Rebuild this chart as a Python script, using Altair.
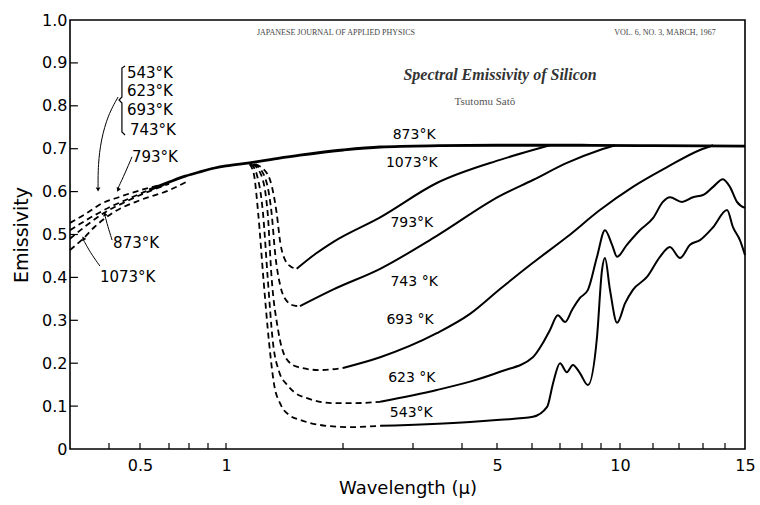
import altair as alt
import pandas as pd

# ---- non-uniform wavelength axis of the original figure (break values -> offsets) ----
X_BREAKS = [0.3, 0.4, 0.5, 0.6, 0.7, 0.8, 1, 2, 3, 4, 5, 6, 7, 8, 9, 10, 11, 12, 13, 14, 15]
X_RANGE = [0, 39, 70, 99, 119, 138, 156, 273, 343, 392, 427, 462, 490, 512, 531, 550, 583, 609, 633, 655, 675]

X_TICKS = [0.4, 0.5, 0.6, 0.7, 0.8, 1, 2, 3, 4, 5, 6, 7, 8, 9, 10, 11, 12, 13, 14]
X_LABELS = [0.5, 1, 5, 10, 15]
Y_TICKS = [0.1, 0.2, 0.3, 0.4, 0.5, 0.6, 0.7, 0.8, 0.9]
Y_LABELS = [0, 0.1, 0.2, 0.3, 0.4, 0.5, 0.6, 0.7, 0.8, 0.9, 1.0]

# ---- common curve (all temperatures 0.55-1.15 um, then 873/1073 K) ----
TOP_LAM = [0.53, 0.6, 0.68, 0.756, 0.87, 1.0, 1.15, 1.35, 1.55, 2.0, 2.48, 3.5, 5, 8, 11, 15]
TOP_EPS = [0.604, 0.622, 0.636, 0.646, 0.655, 0.66, 0.667, 0.677, 0.685, 0.697, 0.704, 0.707, 0.708, 0.708, 0.707, 0.706]

# ---- short-wavelength dashed branches ----
L543_743_LAM = [0.30, 0.343, 0.374, 0.433, 0.50, 0.56]
L543_743_EPS = [0.527, 0.552, 0.57, 0.588, 0.603, 0.614]
L793_LAM = [0.30, 0.35, 0.40, 0.46, 0.52, 0.58]
L793_EPS = [0.51, 0.54, 0.563, 0.583, 0.601, 0.615]
L873_LAM = [0.30, 0.34, 0.385, 0.45, 0.52, 0.6]
L873_EPS = [0.49, 0.522, 0.55, 0.576, 0.598, 0.618]
L1073_LAM = [0.30, 0.33, 0.36, 0.41, 0.5, 0.6, 0.7]
L1073_EPS = [0.464, 0.49, 0.518, 0.55, 0.58, 0.603, 0.626]

# ---- dashed drops beyond the absorption edge ----
D793_LAM = [1.19, 1.28, 1.35, 1.38, 1.42, 1.47, 1.52]
D793_EPS = [0.664, 0.64, 0.55, 0.48, 0.44, 0.425, 0.42]
D743_LAM = [1.18, 1.25, 1.31, 1.34, 1.38, 1.44, 1.5, 1.55]
D743_EPS = [0.664, 0.64, 0.55, 0.45, 0.38, 0.343, 0.334, 0.333]
D693_LAM = [1.17, 1.23, 1.28, 1.31, 1.36, 1.42, 1.52, 1.74, 2.0]
D693_EPS = [0.664, 0.64, 0.55, 0.4, 0.28, 0.215, 0.192, 0.184, 0.189]
D623_LAM = [1.16, 1.2, 1.245, 1.28, 1.32, 1.37, 1.435, 1.5, 1.61, 1.886, 2.15, 2.48]
D623_EPS = [0.664, 0.64, 0.55, 0.4, 0.25, 0.18, 0.15, 0.132, 0.119, 0.107, 0.107, 0.11]
D543_LAM = [1.15, 1.18, 1.21, 1.25, 1.29, 1.33, 1.38, 1.46, 1.55, 1.745, 2.08, 2.48]
D543_EPS = [0.664, 0.64, 0.55, 0.39, 0.25, 0.15, 0.105, 0.078, 0.068, 0.056, 0.051, 0.054]

# ---- solid measured parts ----
S793_LAM = [1.52, 1.7, 1.89, 2.48, 3.45, 5.08, 6.03, 6.62]
S793_EPS = [0.42, 0.455, 0.483, 0.54, 0.62, 0.674, 0.697, 0.708]
S743_LAM = [1.55, 1.89, 2.48, 3.45, 5.08, 6.03, 7.30, 8.94, 9.73]
S743_EPS = [0.333, 0.372, 0.42, 0.497, 0.59, 0.627, 0.667, 0.697, 0.708]
S693_LAM = [2.0, 2.48, 3.45, 4.21, 5.08, 6.03, 7.30, 8.94, 10.38, 11.53, 12.87, 13.45]
S693_EPS = [0.189, 0.214, 0.27, 0.315, 0.373, 0.434, 0.494, 0.557, 0.611, 0.657, 0.697, 0.708]
S623_LAM = [2.48, 3.45, 4.21, 5.08, 6.03, 6.37, 6.62, 6.92, 7.22, 7.53, 7.90, 8.30, 8.78, 9.20,
            9.57, 9.84, 10.2, 10.59, 11.0, 11.37, 11.64, 12.12, 12.57, 13.0, 13.45, 13.9, 14.24, 14.59, 15]
S623_EPS = [0.11, 0.1375, 0.157, 0.18, 0.214, 0.247, 0.277, 0.312, 0.296, 0.324, 0.352, 0.371, 0.448, 0.51,
            0.476, 0.448, 0.476, 0.51, 0.538, 0.576, 0.587, 0.576, 0.587, 0.592, 0.611, 0.629, 0.611, 0.576, 0.562]
S543_LAM = [2.48, 4.21, 5.08, 6.03, 6.52, 6.74, 7.0, 7.30, 7.57, 7.90, 8.30, 8.78, 9.05, 9.20, 9.46, 9.84,
            10.15, 10.38, 10.81, 11.26, 11.64, 12.04, 12.45, 12.87, 13.45, 14.1, 14.39, 14.74, 15]
S543_EPS = [0.054, 0.063, 0.068, 0.075, 0.098, 0.154, 0.2, 0.179, 0.196, 0.177, 0.149, 0.261, 0.417, 0.445, 0.371, 0.294,
            0.34, 0.371, 0.401, 0.448, 0.471, 0.445, 0.476, 0.487, 0.517, 0.557, 0.517, 0.487, 0.452]

# ---- annotation leaders and bracket ----
LEAD1_LAM = [0.427, 0.397, 0.377, 0.369, 0.369]
LEAD1_EPS = [0.8205, 0.7786, 0.7203, 0.662, 0.61]
LEAD2_LAM = [0.472, 0.449, 0.427]
LEAD2_EPS = [0.681, 0.643, 0.608]
LEAD3_LAM = [0.409, 0.396, 0.388]
LEAD3_EPS = [0.487, 0.52, 0.545]
LEAD4_LAM = [0.374, 0.353, 0.338, 0.331]
LEAD4_EPS = [0.4266, 0.452, 0.4755, 0.488]
BRACE_LAM = [0.449, 0.439, 0.439, 0.430, 0.439, 0.439, 0.449]
BRACE_EPS = [0.8928, 0.888, 0.8205, 0.8135, 0.8065, 0.739, 0.732]

ARROW_LAM = [0.369, 0.427, 0.388, 0.331]
ARROW_EPS = [0.605, 0.604, 0.548, 0.491]
ARROW_SHAPE = ["triangle-down", "triangle-down", "triangle-up", "triangle-up"]
ARROW_ANGLE = [0, 22, 345, 332]

CURVE_TEXT = ["873°K", "1073°K", "793°K", "743 °K", "693 °K", "623 °K", "543°K"]
CURVE_TEXT_LAM = [3.02, 2.98, 2.98, 3.02, 2.95, 2.98, 2.97]
CURVE_TEXT_EPS = [0.732, 0.667, 0.527, 0.389, 0.301, 0.166, 0.084]

SIDE_TEXT = ["543°K", "623°K", "693°K", "743°K", "793°K", "873°K", "1073°K"]
SIDE_TEXT_LAM = [0.455, 0.455, 0.455, 0.465, 0.472, 0.412, 0.374]
SIDE_TEXT_EPS = [0.876, 0.834, 0.790, 0.744, 0.681, 0.480, 0.401]

HEAD_TEXT = ["JAPANESE JOURNAL OF APPLIED PHYSICS", "VOL. 6, NO. 3, MARCH, 1967"]
HEAD_LAM = [1.918, 11.45]
HEAD_EPS = [0.970, 0.970]
TITLE_TEXT = ["Spectral Emissivity of Silicon"]
TITLE_LAM = [5.08]
TITLE_EPS = [0.872]
AUTHOR_TEXT = ["Tsutomu Satô"]
AUTHOR_LAM = [4.63]
AUTHOR_EPS = [0.809]


def seg(name, lams, epss):
    return pd.DataFrame({"seg": name, "lam": lams, "eps": epss, "i": list(range(len(lams)))})


top_df = seg("top", TOP_LAM, TOP_EPS)
dash_df = pd.concat([
    seg("l543", L543_743_LAM, L543_743_EPS), seg("l793", L793_LAM, L793_EPS),
    seg("l873", L873_LAM, L873_EPS), seg("l1073", L1073_LAM, L1073_EPS),
    seg("d793", D793_LAM, D793_EPS), seg("d743", D743_LAM, D743_EPS),
    seg("d693", D693_LAM, D693_EPS), seg("d623", D623_LAM, D623_EPS),
    seg("d543", D543_LAM, D543_EPS),
])
solid_df = pd.concat([
    seg("s793", S793_LAM, S793_EPS), seg("s743", S743_LAM, S743_EPS),
    seg("s693", S693_LAM, S693_EPS), seg("s623", S623_LAM, S623_EPS),
    seg("s543", S543_LAM, S543_EPS),
])
lead_df = pd.concat([
    seg("a1", LEAD1_LAM, LEAD1_EPS), seg("a2", LEAD2_LAM, LEAD2_EPS),
    seg("a3", LEAD3_LAM, LEAD3_EPS), seg("a4", LEAD4_LAM, LEAD4_EPS),
])
brace_df = seg("brace", BRACE_LAM, BRACE_EPS)
arrow_df = pd.DataFrame({"lam": ARROW_LAM, "eps": ARROW_EPS, "shape": ARROW_SHAPE, "angle": ARROW_ANGLE})
ctext_df = pd.DataFrame({"lam": CURVE_TEXT_LAM, "eps": CURVE_TEXT_EPS, "t": CURVE_TEXT})
stext_df = pd.DataFrame({"lam": SIDE_TEXT_LAM, "eps": SIDE_TEXT_EPS, "t": SIDE_TEXT})
head_df = pd.DataFrame({"lam": HEAD_LAM, "eps": HEAD_EPS, "t": HEAD_TEXT})
title_df = pd.DataFrame({"lam": TITLE_LAM, "eps": TITLE_EPS, "t": TITLE_TEXT})
author_df = pd.DataFrame({"lam": AUTHOR_LAM, "eps": AUTHOR_EPS, "t": AUTHOR_TEXT})
xt_df = pd.DataFrame({"lam": X_TICKS})
yt_df = pd.DataFrame({"eps": Y_TICKS})

FONT = "DejaVu Sans"

XS = alt.Scale(type="log", domain=X_BREAKS, range=X_RANGE, nice=False, zero=False)
YS = alt.Scale(domain=[0, 1], nice=False, zero=True)

X = alt.X("lam:Q", scale=XS, title="Wavelength (μ)",
          axis=alt.Axis(values=X_LABELS, format="~g", ticks=False, domain=False, grid=False,
                        labelFont=FONT, labelFontSize=16, labelPadding=8, labelColor="black",
                        labelFlush=False, labelOverlap=False,
                        titleFont=FONT, titleFontSize=18, titleFontWeight="normal",
                        titleColor="black", titlePadding=6))
Y = alt.Y("eps:Q", scale=YS, title="Emissivity",
          axis=alt.Axis(values=Y_LABELS, labelExpr="datum.value == 0 ? '0' : format(datum.value, '.1f')",
                        ticks=False, domain=False, grid=False,
                        labelFont=FONT, labelFontSize=16, labelPadding=3, labelColor="black",
                        titleFont=FONT, titleFontSize=19, titleFontWeight="normal",
                        titleColor="black", titlePadding=10))

base_line = dict(color="black")

top = alt.Chart(top_df).mark_line(strokeWidth=2.8, interpolate="monotone", **base_line).encode(
    x=X, y=Y, order="i:Q")
solid = alt.Chart(solid_df).mark_line(strokeWidth=2.0, interpolate="monotone", **base_line).encode(
    x=X, y=Y, detail="seg:N", order="i:Q")
dashed = alt.Chart(dash_df).mark_line(strokeWidth=1.8, strokeDash=[6, 4], interpolate="monotone",
                                      **base_line).encode(x=X, y=Y, detail="seg:N", order="i:Q")
leads = alt.Chart(lead_df).mark_line(strokeWidth=1.0, interpolate="basis", **base_line).encode(
    x=X, y=Y, detail="seg:N", order="i:Q")
brace = alt.Chart(brace_df).mark_line(strokeWidth=1.2, interpolate="linear", **base_line).encode(
    x=X, y=Y, order="i:Q")
arrows = alt.Chart(arrow_df).mark_point(filled=True, size=22, color="black", opacity=1).encode(
    x=X, y=Y, shape=alt.Shape("shape:N", scale=None), angle=alt.Angle("angle:Q", scale=None))

ctext = alt.Chart(ctext_df).mark_text(font=FONT, fontSize=14, color="black", align="center",
                                      baseline="middle").encode(x=X, y=Y, text="t:N")
stext = alt.Chart(stext_df).mark_text(font=FONT, fontSize=15, color="black", align="left",
                                      baseline="middle").encode(x=X, y=Y, text="t:N")
head = alt.Chart(head_df).mark_text(font="Liberation Serif", fontSize=8, color="#444",
                                    align="center", baseline="middle").encode(x=X, y=Y, text="t:N")
title = alt.Chart(title_df).mark_text(font="Liberation Serif", fontSize=16, fontStyle="italic",
                                      fontWeight="bold", color="#333", align="center",
                                      baseline="middle").encode(x=X, y=Y, text="t:N")
author = alt.Chart(author_df).mark_text(font="Liberation Serif", fontSize=11, color="#555",
                                        align="center", baseline="middle").encode(x=X, y=Y, text="t:N")

xticks = alt.Chart(xt_df).mark_rule(color="black", strokeWidth=1.2).encode(
    x=X, y=alt.datum(0, scale=YS), y2=alt.datum(0.014))
yticks = alt.Chart(yt_df).mark_rule(color="black", strokeWidth=1.2).encode(
    y=Y, x=alt.datum(0.3), x2=alt.datum(0.318))

chart = alt.layer(
    xticks, yticks, top, solid, dashed, leads, brace, arrows, ctext, stext, head, title, author
).properties(
    width=675, height=429,
    autosize=alt.AutoSizeParams(type="none"),
    padding={"left": 70, "top": 20, "right": 15, "bottom": 56},
    background="white",
).configure_view(stroke="black", strokeWidth=1.6)

chart.save("out.html", embed_options={"renderer": "svg", "actions": False})
